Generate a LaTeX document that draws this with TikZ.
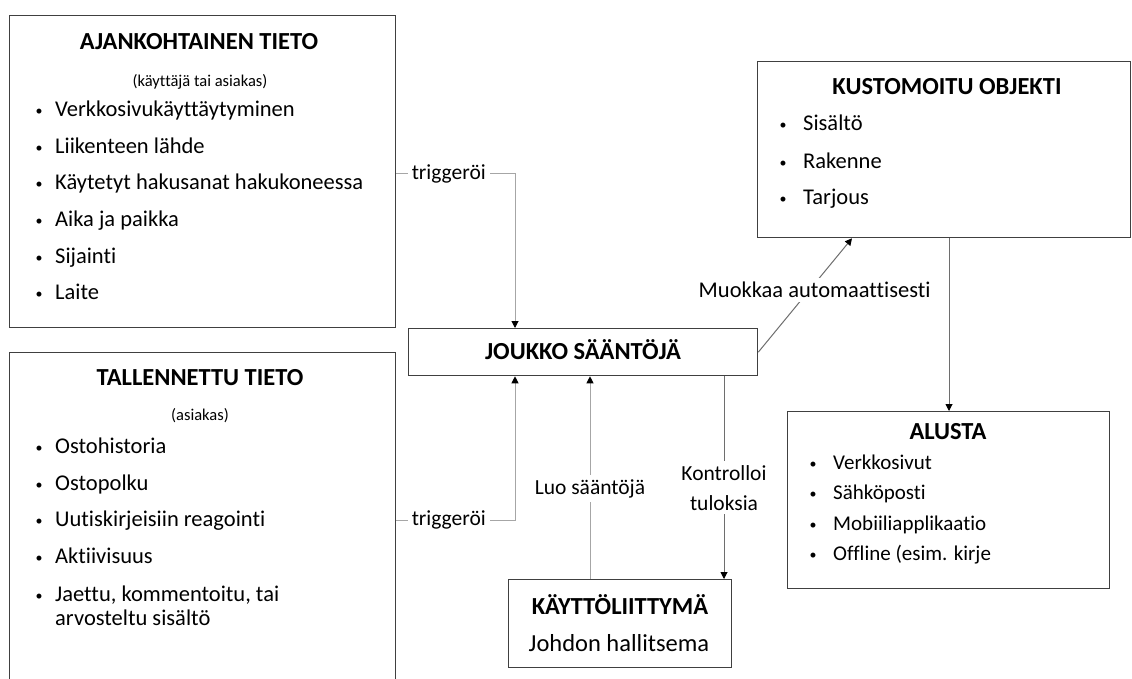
\documentclass[tikz,border=0pt]{standalone}
\usepackage{fontspec}
\setmainfont{Carlito}[Ligatures={NoCommon}]
\usetikzlibrary{arrows.meta,calc}
\definecolor{boxcol}{HTML}{404040}
\definecolor{lightline}{HTML}{A6A6A6}
\definecolor{darkline}{HTML}{6E6E6E}
\newcommand\bitem[2]{\makebox[0pt][c]{\raisebox{1.5pt}{\fontsize{14}{14}\selectfont •}}\hspace{#1}#2}
\begin{document}
\begin{tikzpicture}[x=1pt,y=-1pt,
  box/.style={draw=boxcol, line width=1.3pt, anchor=north west, inner sep=0pt},
  ttl/.style={inner sep=0pt, anchor=mid, yshift=-5.5pt, font=\fontsize{24.5}{28}\selectfont\bfseries},
  sub/.style={inner sep=0pt, anchor=mid, yshift=-4pt, font=\fontsize{16.5}{19}\selectfont},
  itm/.style={inner sep=0pt, anchor=mid west, yshift=-4.5pt, font=\fontsize{22.5}{26}\selectfont},
  itms/.style={inner sep=0pt, anchor=mid west, yshift=-4.5pt, font=\fontsize{21}{25}\selectfont},
  lab/.style={fill=white, inner sep=4pt, font=\fontsize{21.5}{30}\selectfont, align=center},
  arr/.style={-{Triangle[length=7pt,width=7pt,color=black]}},
  gline/.style={draw=lightline, line width=1pt, arr},
  dline/.style={draw=darkline, line width=1pt, arr}]
\useasboundingbox (0,0) rectangle (1132,679);
\clip (0,0) rectangle (1132,679);
\fill[white] (0,0) rectangle (1132,679);

% boxes
\node[box, minimum width=386pt, minimum height=312pt] (A) at (9,15) {};
\node[box, minimum width=386pt, minimum height=345pt] (T) at (9,352) {};
\node[box, minimum width=349pt, minimum height=47pt] (J) at (408,328) {};
\node[box, minimum width=373pt, minimum height=176pt] (K) at (757,61) {};
\node[box, minimum width=322pt, minimum height=177pt] (AL) at (787,411) {};
\node[box, minimum width=223pt, minimum height=88pt] (KA) at (508,579) {};

% AJANKOHTAINEN TIETO
\node[ttl] (Atitle) at (199,42) {AJANKOHTAINEN TIETO};
\node[sub] (Asub) at (200,80) {(käyttäjä tai asiakas)};
\node[itm] (A1) at (39,110) {\bitem{16pt}{Verkkosivukäyttäytyminen}};
\node[itm] (A2) at (39,147) {\bitem{16pt}{Liikenteen lähde}};
\node[itm] (A3) at (39,183) {\bitem{16pt}{Käytetyt hakusanat hakukoneessa}};
\node[itm] (A4) at (39,220) {\bitem{16pt}{Aika ja paikka}};
\node[itm] (A5) at (39,257) {\bitem{16pt}{Sijainti}};
\node[itm] (A6) at (39,293) {\bitem{16pt}{Laite}};

% TALLENNETTU TIETO
\node[ttl] (Ttitle) at (200,378) {TALLENNETTU TIETO};
\node[sub] (Tsub) at (200,414) {(asiakas)};
\node[itm] (T1) at (39,447) {\bitem{16pt}{Ostohistoria}};
\node[itm] (T2) at (39,484) {\bitem{16pt}{Ostopolku}};
\node[itm] (T3) at (39,520) {\bitem{16pt}{Uutiskirjeisiin reagointi}};
\node[itm] (T4) at (39,557) {\bitem{16pt}{Aktiivisuus}};
\node[itm] (T5) at (39,595) {\bitem{16pt}{Jaettu, kommentoitu, tai}};
\node[itm] (T5b) at (55,619) {arvosteltu sisältö};

% JOUKKO SÄÄNTÖJÄ
\node[ttl] (Jtitle) at (583,352) {JOUKKO SÄÄNTÖJÄ};

% KUSTOMOITU OBJEKTI
\node[ttl] (Ktitle) at (947,87) {KUSTOMOITU OBJEKTI};
\node[itm] (K1) at (783,124) {\bitem{20pt}{Sisältö}};
\node[itm] (K2) at (783,162) {\bitem{20pt}{Rakenne}};
\node[itm] (K3) at (783,198) {\bitem{20pt}{Tarjous}};

% ALUSTA
\node[ttl] (ALtitle) at (948,432) {ALUSTA};
\node[itms] (AL1) at (813,463) {\bitem{20pt}{Verkkosivut}};
\node[itms] (AL2) at (813,493) {\bitem{20pt}{Sähköposti}};
\node[itms] (AL3) at (813,524) {\bitem{20pt}{Mobiiliapplikaatio}};
\node[itms] (AL4) at (813,554) {\bitem{20pt}{Offline (esim. kirje}};

% KÄYTTÖLIITTYMÄ
\node[ttl] (KAtitle) at (620,607) {KÄYTTÖLIITTYMÄ};
\node[inner sep=0pt, anchor=mid, yshift=-4.5pt, font=\fontsize{24.5}{28}\selectfont] (KAsub) at (619,645) {Johdon hallitsema};

% connectors
\coordinate (c1) at (515,174);
\coordinate (c2) at (515,520);
\coordinate (c3) at (590,0);
\coordinate (c4) at (724,0);
\coordinate (c5) at (852,0);
\coordinate (c6) at (949,0);

\draw[gline] (A.east |- c1) -- node[lab, pos=0.442] (L1) {triggeröi} (c1) -- (J.north -| c1);
\draw[gline] (T.east |- c2) -- node[lab, pos=0.442] (L2) {triggeröi} (c2) -- (J.south -| c2);
\draw[gline] (KA.north -| c3) -- node[lab, pos=0.446] (L3) {Luo sääntöjä} (J.south -| c3);
\draw[dline] (J.south -| c4) -- node[lab, pos=0.55] (L4) {Kontrolloi\\tuloksia} (KA.north -| c4);
\draw[dline] (J.east) -- node[lab, pos=0.548, xshift=5pt, font=\fontsize{22.5}{30}\selectfont] (L5) {Muokkaa automaattisesti} (K.south -| c5);
\draw[dline] (K.south -| c6) -- (AL.north -| c6);
\end{tikzpicture}
\end{document}
